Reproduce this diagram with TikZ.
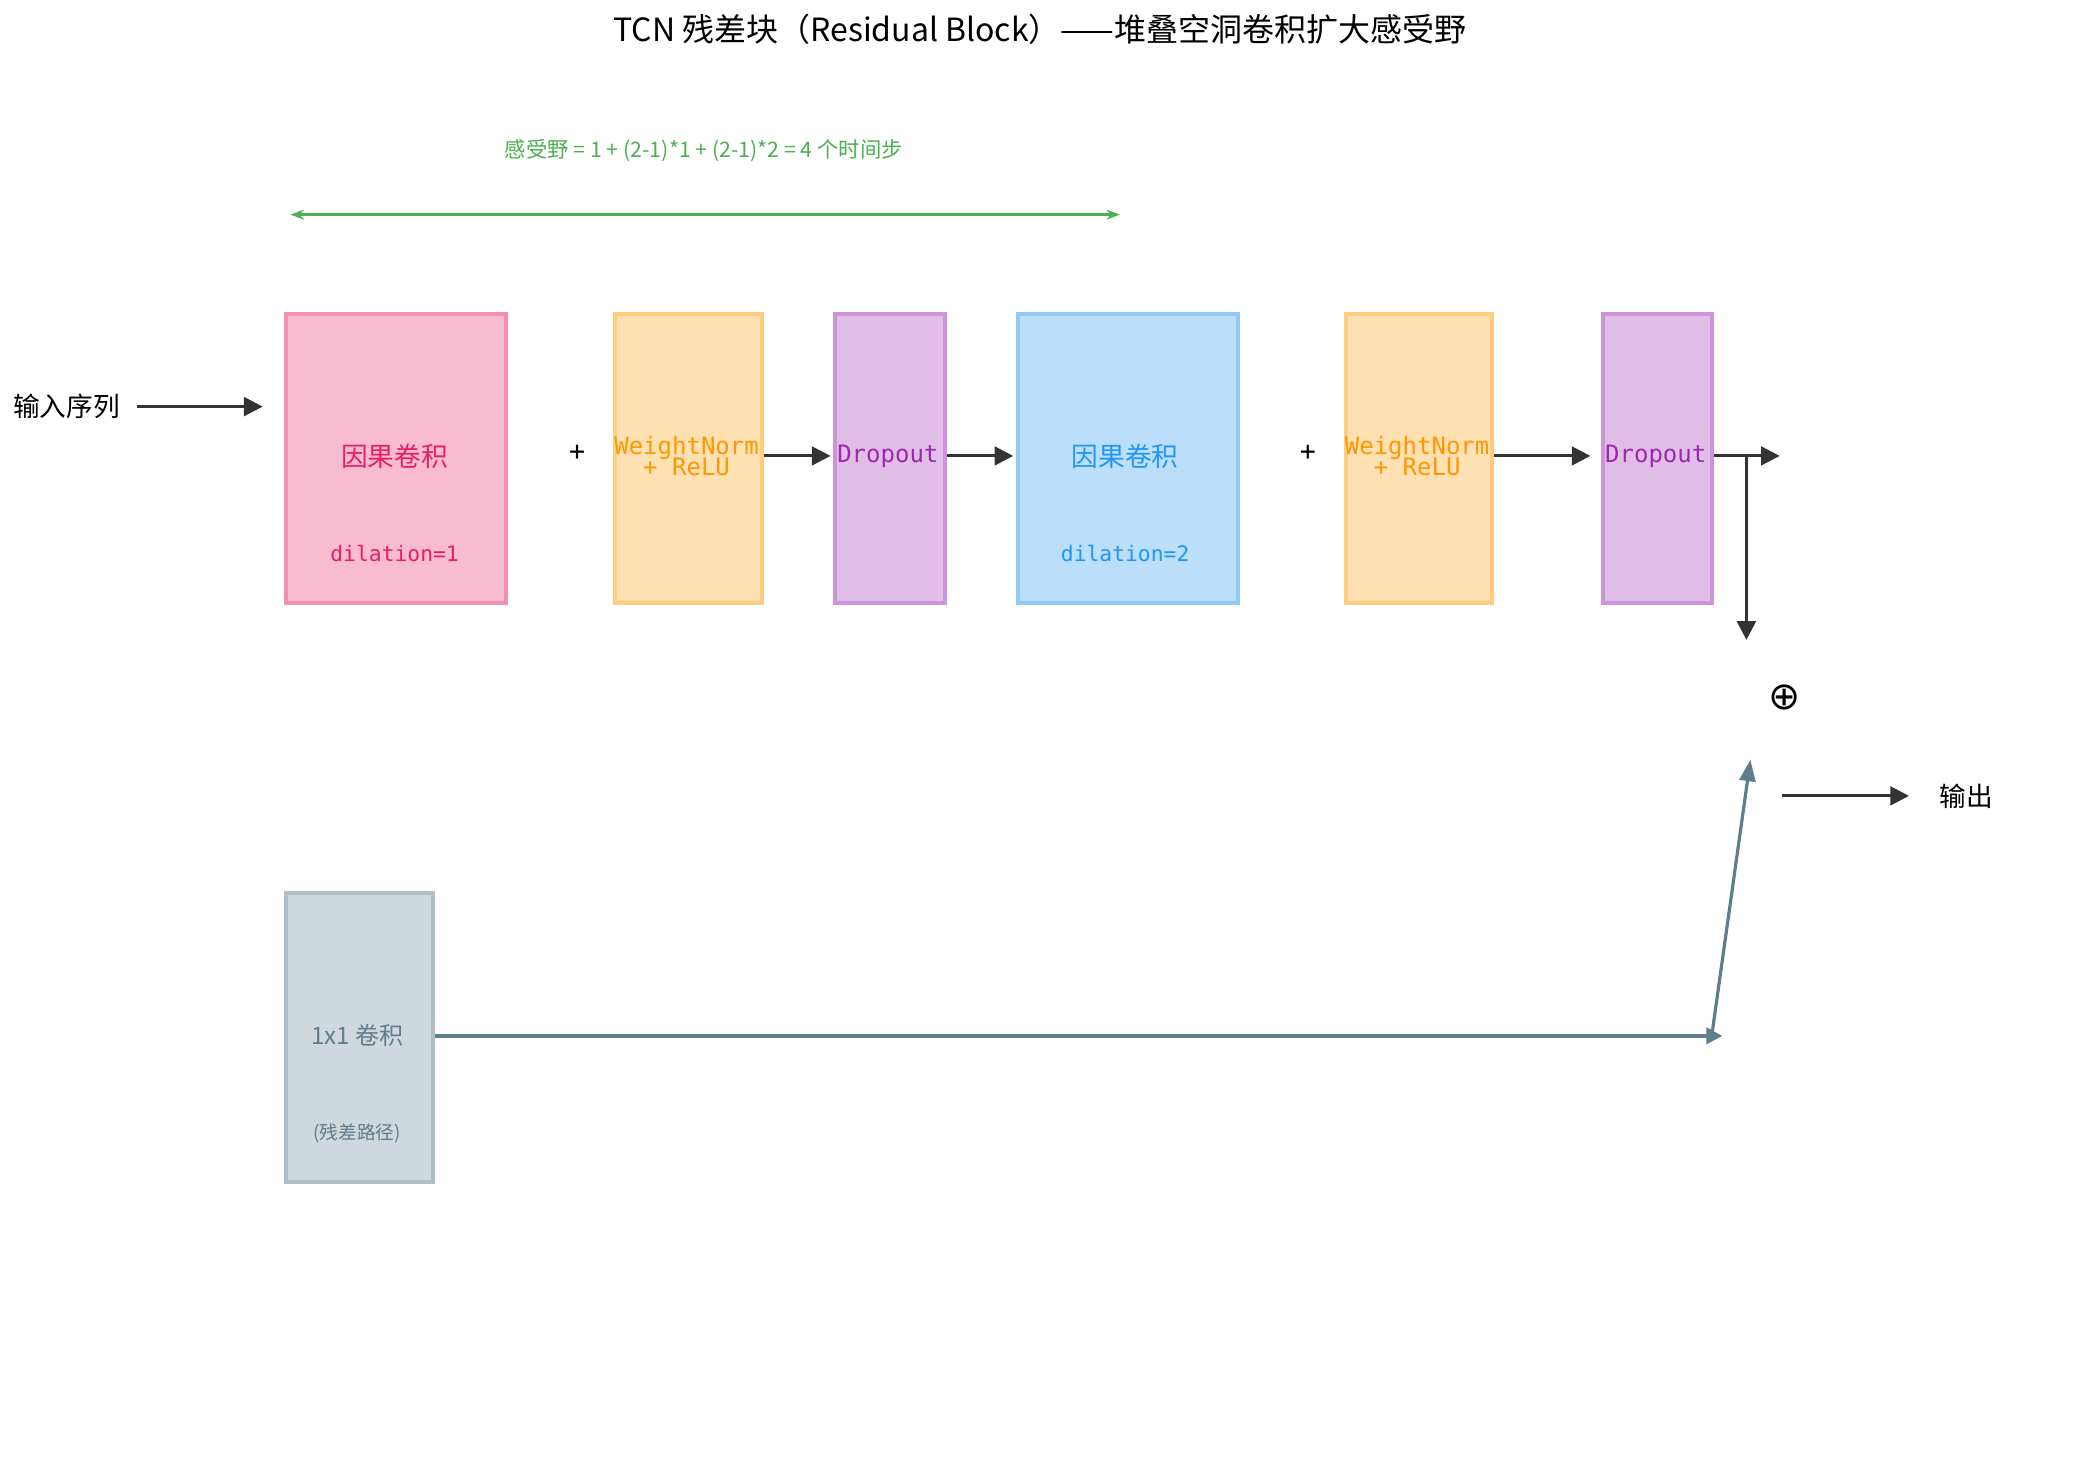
\documentclass[tikz,border=0pt]{standalone}
\usepackage{fontspec}
\setmainfont{DejaVu Sans Mono}
\newfontfamily\cjk{Noto Sans CJK SC}
\newfontfamily\sym{DejaVu Sans}
\usetikzlibrary{arrows.meta}
\definecolor{pinkf}{HTML}{F8BBD0}\definecolor{pinkd}{HTML}{F48FB1}\definecolor{pinkt}{HTML}{E91E63}
\definecolor{orf}{HTML}{FFE0B2}\definecolor{ord}{HTML}{FFCC80}\definecolor{ort}{HTML}{FF9800}
\definecolor{puf}{HTML}{E1BEE7}\definecolor{pud}{HTML}{CE93D8}\definecolor{put}{HTML}{9C27B0}
\definecolor{blf}{HTML}{BBDEFB}\definecolor{bld}{HTML}{90CAF9}\definecolor{blt}{HTML}{2196F3}
\definecolor{grf}{HTML}{CFD8DC}\definecolor{grd}{HTML}{B0BEC5}\definecolor{grt}{HTML}{607D8B}
\definecolor{gn}{HTML}{4CAF50}\definecolor{dk}{HTML}{333333}
\begin{document}
\begin{tikzpicture}[x=0.5pt,y=-0.5pt,
 box/.style={draw,line width=1.5pt,minimum height=108.5pt,inner sep=0pt,anchor=north west,font=\small},
 arr/.style={dk,line width=1.1pt,-{Triangle[length=7pt,width=7pt]}},
 lbl/.style={font=\cjk\small}]
\useasboundingbox (0,0) rectangle (1558,1108);
\node[font=\cjk\large] (t) at (780,22) {TCN 残差块（Residual Block）——堆叠空洞卷积扩大感受野};
\node[font=\cjk\footnotesize,text=gn] (rf) at (528,113) {感受野 = 1 + (2-1)*1 + (2-1)*2 = 4 个时间步};
\coordinate (g1) at (218,161); \coordinate (g2) at (840,161);
\draw[gn,line width=1.3pt,{Stealth[length=5pt]}-{Stealth[length=5pt]}] (g1)--(g2);
\node[box,fill=pinkf,draw=pinkd,minimum width=82.5pt] (c1) at (213,234) {};
\node[font=\cjk,text=pinkt] at (296,342) {因果卷积};
\node[text=pinkt,font=\footnotesize] at (296,415) {dilation=1};
\node at (433,340) {+};
\node[box,fill=orf,draw=ord,minimum width=55pt] (o1) at (460,234) {};
\node[text=ort,align=center,font=\small,inner sep=0pt] at (515,342) {WeightNorm\\[-3pt]+ ReLU};
\node[box,fill=puf,draw=pud,minimum width=41pt] (p1) at (625,234) {};
\node[text=put,font=\small] at (666,342) {Dropout};
\node[box,fill=blf,draw=bld,minimum width=82.5pt] (c2) at (762,234) {};
\node[font=\cjk,text=blt] at (844,342) {因果卷积};
\node[text=blt,font=\footnotesize] at (844,415) {dilation=2};
\node at (981,340) {+};
\node[box,fill=orf,draw=ord,minimum width=55pt] (o2) at (1008,234) {};
\node[text=ort,align=center,font=\small,inner sep=0pt] at (1063,342) {WeightNorm\\[-3pt]+ ReLU};
\node[box,fill=puf,draw=pud,minimum width=41pt] (p2) at (1201,234) {};
\node[text=put,font=\small] at (1242,342) {Dropout};
\node[box,fill=grf,draw=grd,minimum width=55pt] (r) at (213,668) {};
\node[font=\cjk\small,text=grt] at (268,777) {1x1 卷积};
\node[font=\cjk\scriptsize,text=grt] at (268,850) {(残差路径)};
\node[lbl,font=\cjk] (in) at (50,305) {输入序列};
\node[font=\cjk] (out) at (1475,597) {输出};
\node[font=\sym\Large] (plus) at (1339,523) {⊕};
\coordinate (a1) at (103,305); \coordinate (a2) at (197,305);
\draw[arr] (a1)--(a2);
\draw[arr] (o1.east|-0,342)--(623,342);
\draw[arr] (p1.east|-0,342)--(760,342);
\draw[arr] (o2.east|-0,342)--(1193,342);
\coordinate (e) at (1335,342); \coordinate (b) at (1310,342); \coordinate (bd) at (1310,480);
\draw[arr] (p2.east|-0,342)--(e);
\draw[arr] (b)--(bd);
\coordinate (o1s) at (1337,597); \coordinate (o2s) at (1432,597);
\draw[arr] (o1s)--(o2s);
\coordinate (rr) at (1292,777); \coordinate (rs) at (1284,777); \coordinate (ru) at (1313,570);
\draw[grt,line width=1.5pt,-{Triangle[length=6pt,width=6pt]}] (r.east|-0,777)--(rr);
\draw[grt,line width=1.2pt,-{Triangle[length=8pt,width=6pt]}] (rs)--(ru);
\end{tikzpicture}
\end{document}
